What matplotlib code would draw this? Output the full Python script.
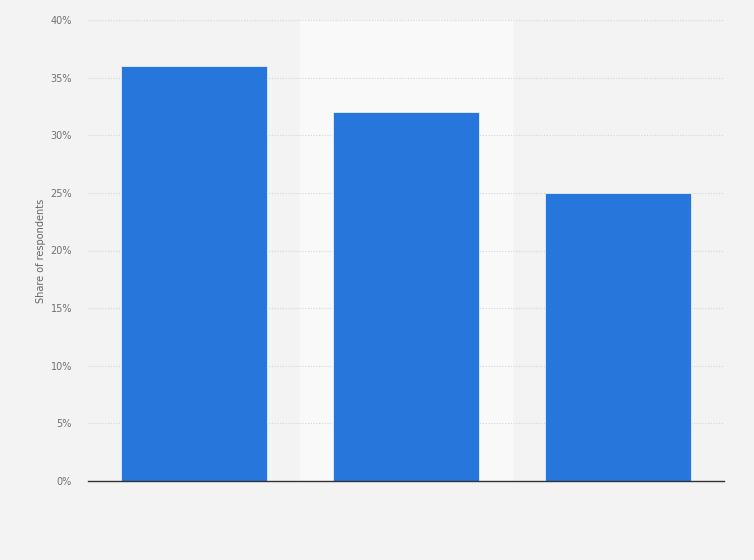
import matplotlib
matplotlib.use("Agg")
import matplotlib.pyplot as plt
from matplotlib.ticker import FuncFormatter

categories = ["A", "B", "C"]
shares = [36, 32, 25]
yticks = [0, 5, 10, 15, 20, 25, 30, 35, 40]

fig = plt.figure(figsize=(7.54, 5.6), dpi=100)
fig.patch.set_facecolor("#f3f3f3")
ax = fig.add_axes([88 / 754, 79 / 560, 636 / 754, 461 / 560])
ax.set_facecolor("#f3f3f3")

x = list(range(len(categories)))
# lighter band behind every other category
for i in x:
    if i % 2 == 1:
        ax.axvspan(i - 0.5, i + 0.5, color="#f9f9f9", zorder=0)

ax.bar(x, shares, width=0.685, color="#2776dc", edgecolor="#e6eefa",
       linewidth=0.6, zorder=3)

ax.set_xlim(-0.5, len(categories) - 0.5)
ax.set_ylim(0, 40)
ax.set_yticks(yticks)
ax.yaxis.set_major_formatter(FuncFormatter(lambda v, _: f"{v:.0f}%"))
ax.set_xticks([])
ax.grid(axis="y", color="#d4d4d4", linestyle=(0, (1, 1.5)), linewidth=0.8, zorder=1)
ax.tick_params(axis="y", length=0, pad=11.5, labelsize=7, labelcolor="#707070")
for s in ("top", "right", "left"):
    ax.spines[s].set_visible(False)
ax.spines["bottom"].set_color("#333333")
ax.spines["bottom"].set_linewidth(1.0)
ax.spines["bottom"].set_zorder(4)
ax.set_ylabel("Share of respondents", fontsize=7, color="#666666", labelpad=3)

fig.savefig("out.png", dpi=100, facecolor=fig.get_facecolor())
